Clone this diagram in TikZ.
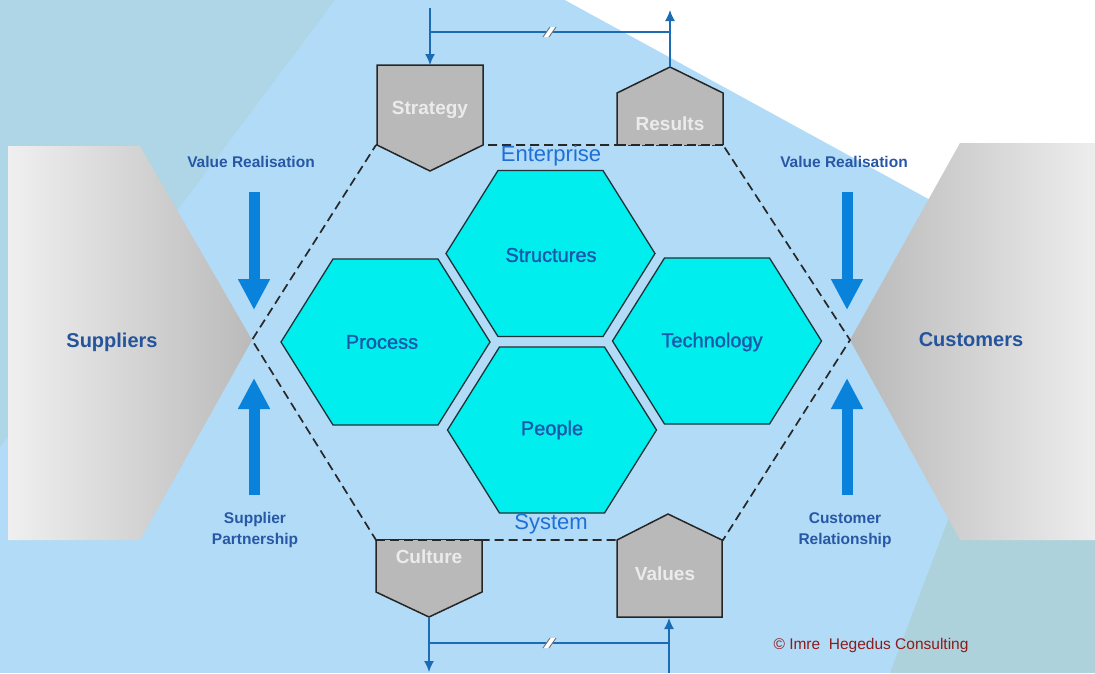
\documentclass[tikz,border=0pt]{standalone}
\usepackage{fontspec}
\setmainfont{Liberation Sans}
\newfontfamily\hexfont[FakeBold=1.2]{Liberation Sans}
\usetikzlibrary{arrows.meta}
\definecolor{bgblue}{RGB}{177,219,246}
\definecolor{bgteal}{RGB}{174,214,230}
\definecolor{bgtealb}{RGB}{174,210,220}
\definecolor{hexcyan}{RGB}{0,238,238}
\definecolor{hexedge}{RGB}{30,50,55}
\definecolor{hexblue}{RGB}{26,88,170}
\definecolor{entblue}{RGB}{30,112,215}
\definecolor{arrblue}{RGB}{8,130,218}
\definecolor{lineblue}{RGB}{27,108,180}
\definecolor{boxgray}{RGB}{185,185,185}
\definecolor{boxtext}{RGB}{235,235,235}
\definecolor{lblblue}{RGB}{40,88,165}
\definecolor{sideblue}{RGB}{36,84,156}
\definecolor{copyred}{RGB}{140,28,28}
\definecolor{dashgray}{RGB}{40,40,40}
\begin{document}
\begin{tikzpicture}[x=1pt,y=-1pt,
  hexshape/.style={fill=hexcyan,draw=hexedge,line width=1.3pt,line join=miter},
  hexlabel/.style={text=hexblue,font=\hexfont\fontsize{20}{24}\selectfont,inner sep=0pt},
  boxshape/.style={fill=boxgray,draw=black!85,line width=1.5pt,line join=miter},
  boxlabel/.style={text=boxtext,font=\bfseries\fontsize{19}{23}\selectfont,inner sep=0pt},
  dashline/.style={draw=dashgray,line width=1.7pt,dash pattern=on 9pt off 5pt},
  conn/.style={draw=lineblue,line width=1.4pt},
  connarrow/.style={conn,-{Latex[length=11pt,width=10pt]}},
  bigarrow/.style={draw=arrblue,line width=11pt,-{Triangle[width=30pt,length=31pt]}},
  sidelabel/.style={text=lblblue,font=\bfseries\fontsize{15.5}{21}\selectfont,align=center,inner sep=0pt},
  partlabel/.style={text=sideblue,font=\bfseries\fontsize{20}{24}\selectfont,inner sep=0pt},
  titlelabel/.style={text=entblue,font=\fontsize{22}{26}\selectfont,inner sep=0pt}
]
\useasboundingbox (0,0) rectangle (1095,673);
% background
\fill[bgblue] (0,0) rectangle (1095,673);
\fill[bgteal] (0,0) -- (335,0) -- (0,447) -- cycle;
\fill[white] (565,0) -- (1095,0) -- (1095,290) -- cycle;
\fill[bgtealb] (967,470) -- (1095,470) -- (1095,673) -- (890,673) -- cycle;
% side shapes
\shade[left color=black!6,right color=black!27] (8,146) -- (140,146) -- (252,340) -- (140,540) -- (8,540) -- cycle;
\shade[left color=black!28,right color=black!7] (850,340) -- (960,143) -- (1095,143) -- (1095,540) -- (960,540) -- cycle;
\node[partlabel] (suppliers) at (112,342) {Suppliers};
\node[partlabel] (customers) at (971,340) {Customers};
% dashed enterprise hexagon
\draw[dashline] (376,145) -- (723,145) -- (850,340) -- (723,540) -- (376,540) -- (252,340) -- cycle;
% boxes
\draw[boxshape] (377,65) -- (483,65) -- (483,145) -- (430,171) -- (377,145) -- cycle;
\fill[boxgray] (617,145) -- (617,93) -- (670,67) -- (723,93) -- (723,145) -- cycle;
\draw[boxshape,fill=none] (617,145) -- (617,93) -- (670,67) -- (723,93) -- (723,145);
\draw[dashline] (617,145) -- (723,145);
\fill[boxgray] (376,540) -- (482,540) -- (482,592) -- (429,617) -- (376,592) -- cycle;
\draw[boxshape,fill=none] (376,540) -- (376,592) -- (429,617) -- (482,592) -- (482,540);
\draw[dashline] (376,540) -- (482,540);
\draw[boxshape] (617,617) -- (617,540) -- (668,514) -- (722,540) -- (722,617) -- cycle;
\node[boxlabel] (strategy) at (430,110) {Strategy};
\node[boxlabel] (results) at (670,124) {Results};
\node[boxlabel] (culture) at (429,557) {Culture};
\node[boxlabel] (values) at (665,574) {Values};
% anchor coordinates of boxes
\coordinate (stratTop) at (430,65);
\coordinate (resPeak) at (670,67);
\coordinate (culPoint) at (429,617);
\coordinate (valBottom) at (669,618);
\coordinate (topIn) at (430,8);
\coordinate (topOut) at (670,10);
\coordinate (topJl) at (430,32);
\coordinate (topJr) at (670,32);
\coordinate (botOut) at (429,672);
\coordinate (botIn) at (669,673);
\coordinate (botJl) at (429,643);
\coordinate (botJr) at (669,643);
% connectors
\draw[connarrow] (topIn) -- (stratTop);
\draw[conn] (topJl) -- (topJr);
\draw[connarrow] (resPeak) -- (topOut);
\draw[connarrow] (culPoint) -- (botOut);
\draw[conn] (botJl) -- (botJr);
\draw[connarrow] (botIn) -- (valBottom);
% break marks
\foreach \yy in {32,643}{
  \fill[white] (543,\yy+5) -- (549,\yy+5) -- (556,\yy-5) -- (550,\yy-5) -- cycle;
  \draw[black!55,line width=0.9pt] (543,\yy+5) -- (550,\yy-5);
  \draw[black!55,line width=0.9pt] (549,\yy+5) -- (556,\yy-5);
}
% cyan hexagons
\foreach \cx/\cy in {385.5/342, 550.5/253.5, 717/341, 552/430}{
  \draw[hexshape,shift={(\cx,\cy)}] (-104.5,0) -- (-52.5,-83) -- (52.5,-83) -- (104.5,0) -- (52.5,83) -- (-52.5,83) -- cycle;
}
\node[hexlabel] (process) at (382,342) {Process};
\node[hexlabel] (structures) at (551,255) {Structures};
\node[hexlabel] (technology) at (712,342) {Technology};
\node[hexlabel] (people) at (552,430) {People};
\node[titlelabel] (enterprise) at (551,156) {Enterprise};
\node[titlelabel] (system) at (551,524) {System};
% side arrows
\coordinate (la1) at (254,192); \coordinate (la2) at (254,310);
\coordinate (la3) at (254,495); \coordinate (la4) at (254,378);
\coordinate (ra1) at (847,192); \coordinate (ra2) at (847,310);
\coordinate (ra3) at (847,495); \coordinate (ra4) at (847,378);
\draw[bigarrow] (la1) -- (la2);
\draw[bigarrow] (la3) -- (la4);
\draw[bigarrow] (ra1) -- (ra2);
\draw[bigarrow] (ra3) -- (ra4);
\node[sidelabel] (vrl) at (251,162) {Value Realisation};
\node[sidelabel] (vrr) at (844,162) {Value Realisation};
\node[sidelabel] (sp) at (255,530) {Supplier\\Partnership};
\node[sidelabel] (cr) at (845,530) {Customer\\Relationship};
\node[text=copyred,font=\fontsize{15.5}{18}\selectfont,inner sep=0pt] (copy) at (871,645) {\textcopyright{} Imre~ Hegedus Consulting};
\end{tikzpicture}
\end{document}
